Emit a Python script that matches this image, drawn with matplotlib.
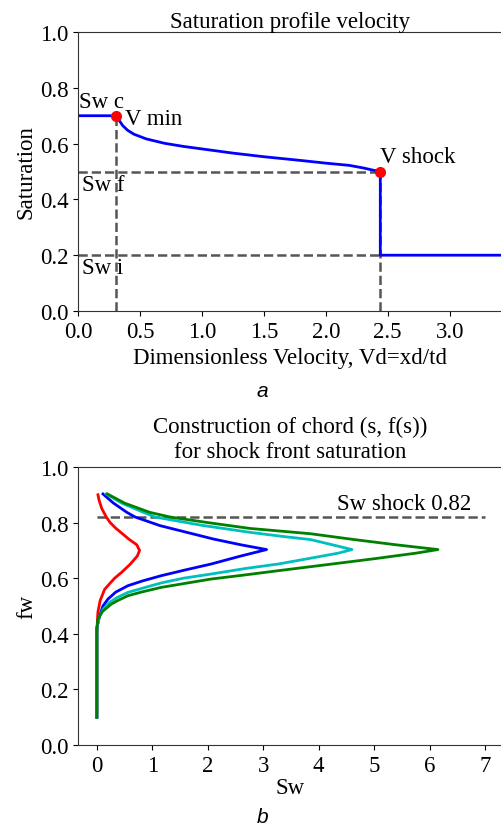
import numpy as np
import matplotlib
matplotlib.use("Agg")
import matplotlib.pyplot as plt

plt.rcParams['font.family'] = ['Liberation Serif', 'DejaVu Serif']

# top panel: saturation profile vs dimensionless velocity
v_curve = [0.31, 0.33, 0.36, 0.40, 0.45, 0.55, 0.70, 0.85, 1.00, 1.25, 1.50, 1.79, 2.00, 2.19, 2.30, 2.38, 2.44]
s_curve = [0.70, 0.685, 0.665, 0.648, 0.634, 0.617, 0.601, 0.590, 0.581, 0.566, 0.553, 0.540, 0.530, 0.522, 0.513, 0.505, 0.50]
v_min = 0.31
v_shock = 2.44
sw_c = 0.70
sw_f = 0.50
sw_i = 0.20
v_end = 3.42

# bottom panel: chord construction curves
fw_red = [0.10, 0.40, 0.45, 0.48, 0.52, 0.56, 0.60, 0.62, 0.65, 0.68, 0.70, 0.72, 0.74, 0.76, 0.78, 0.80, 0.82, 0.85, 0.88, 0.90]
x_red = [0.0, 0.0, 0.01, 0.02, 0.06, 0.14, 0.32, 0.44, 0.60, 0.73, 0.77, 0.72, 0.58, 0.46, 0.34, 0.24, 0.17, 0.09, 0.04, 0.02]

fw_blue = [0.10, 0.42, 0.465, 0.50, 0.525, 0.55, 0.573, 0.59, 0.609, 0.63, 0.651, 0.68, 0.703, 0.72, 0.741, 0.766, 0.789, 0.82, 0.837, 0.87, 0.903]
x_blue = [0.0, 0.0, 0.05, 0.11, 0.20, 0.34, 0.56, 0.82, 1.16, 1.60, 2.06, 2.60, 3.06, 2.60, 2.10, 1.60, 1.14, 0.69, 0.54, 0.30, 0.11]

fw_cyan = [0.10, 0.42, 0.465, 0.49, 0.513, 0.53, 0.549, 0.565, 0.583, 0.60, 0.615, 0.635, 0.651, 0.67, 0.69, 0.703, 0.72, 0.739, 0.75, 0.765, 0.79, 0.82, 0.837, 0.87, 0.903]
x_cyan = [0.0, 0.0, 0.05, 0.12, 0.23, 0.36, 0.56, 0.84, 1.16, 1.56, 2.06, 2.68, 3.27, 3.80, 4.35, 4.60, 4.25, 3.85, 3.36, 2.76, 1.90, 1.05, 0.84, 0.45, 0.17]

fw_green = [0.10, 0.42, 0.453, 0.48, 0.507, 0.52, 0.537, 0.55, 0.567, 0.58, 0.597, 0.61, 0.627, 0.65, 0.67, 0.69, 0.703, 0.72, 0.74, 0.76, 0.779, 0.80, 0.82, 0.837, 0.87, 0.903]
x_green = [0.0, 0.0, 0.02, 0.10, 0.26, 0.38, 0.56, 0.80, 1.16, 1.55, 2.06, 2.60, 3.27, 4.20, 5.00, 5.75, 6.15, 5.40, 4.60, 3.85, 2.76, 2.00, 1.32, 0.95, 0.50, 0.19]

sw_shock = 0.82

fig = plt.figure(figsize=(5.02, 8.28), dpi=100)
ax1 = fig.add_axes([0.1554, 0.6232, 0.844, 0.3369])
ax2 = fig.add_axes([0.1554, 0.0990, 0.844, 0.3358])

dash = dict(color="#555555", ls="--", lw=1.8)
fs = 16.5

# ---- top
ax1.plot([v_min, v_min], [0, sw_c], **dash)
ax1.plot([0, v_shock], [sw_f, sw_f], **dash)
ax1.plot([0, v_shock], [sw_i, sw_i], **dash)
ax1.plot([v_shock, v_shock], [0, sw_f], **dash)

vx = [0] + v_curve + [v_shock, v_end]
sy = [sw_c] + s_curve + [sw_i, sw_i]
ax1.plot(vx, sy, color="blue", lw=2)
ax1.plot([v_min, v_shock], [sw_c, sw_f], "o", color="red", ms=7, zorder=5)

ax1.text(0.01, 0.75, "Sw c", fontsize=fs, va="center")
ax1.text(0.38, 0.69, "V min", fontsize=fs, va="center")
ax1.text(0.03, 0.455, "Sw f", fontsize=fs, va="center")
ax1.text(0.03, 0.155, "Sw i", fontsize=fs, va="center")
ax1.text(2.44, 0.555, "V shock", fontsize=fs, va="center")

ax1.set_xlim(0, v_end)
ax1.set_ylim(0, 1.0)
ax1.set_xticks(np.arange(0, 3.01, 0.5))
ax1.set_yticks(np.arange(0, 1.01, 0.2))
ax1.set_title("Saturation profile velocity", fontsize=fs, pad=3)
ax1.set_xlabel("Dimensionless Velocity, Vd=xd/td", fontsize=fs, labelpad=4)
ax1.set_ylabel("Saturation", fontsize=fs, labelpad=2)
ax1.spines["right"].set_visible(False)

# ---- bottom
ax2.plot([0, 7], [sw_shock, sw_shock], **dash)
ax2.plot(x_red, fw_red, color="red", lw=2)
ax2.plot(x_blue, fw_blue, color="blue", lw=2)
ax2.plot(x_cyan, fw_cyan, color="c", lw=2)
ax2.plot(x_green, fw_green, color="green", lw=2)
ax2.text(4.33, 0.83, "Sw shock 0.82", fontsize=fs, va="bottom")

ax2.set_xlim(-0.34, 7.3)
ax2.set_ylim(0, 1.0)
ax2.set_xticks(range(0, 8))
ax2.set_yticks(np.arange(0, 1.01, 0.2))
ax2.set_title("Construction of chord (s, f(s))\nfor shock front saturation", fontsize=fs, pad=7,
              linespacing=1.25)
ax2.set_xlabel("Sw", fontsize=fs, labelpad=1)
ax2.set_ylabel("fw", fontsize=fs, labelpad=2)
ax2.spines["right"].set_visible(False)

for ax in (ax1, ax2):
    ax.tick_params(labelsize=fs)
    for sp in ax.spines.values():
        sp.set_color("#333333")

fig.text(0.522, 1 - 392 / 828, "a", fontsize=15, style="italic",
         family="Liberation Sans", ha="center", va="center")
fig.text(0.522, 1 - 818 / 828, "b", fontsize=15, style="italic",
         family="Liberation Sans", ha="center", va="center")

fig.savefig("out.png", dpi=100)
